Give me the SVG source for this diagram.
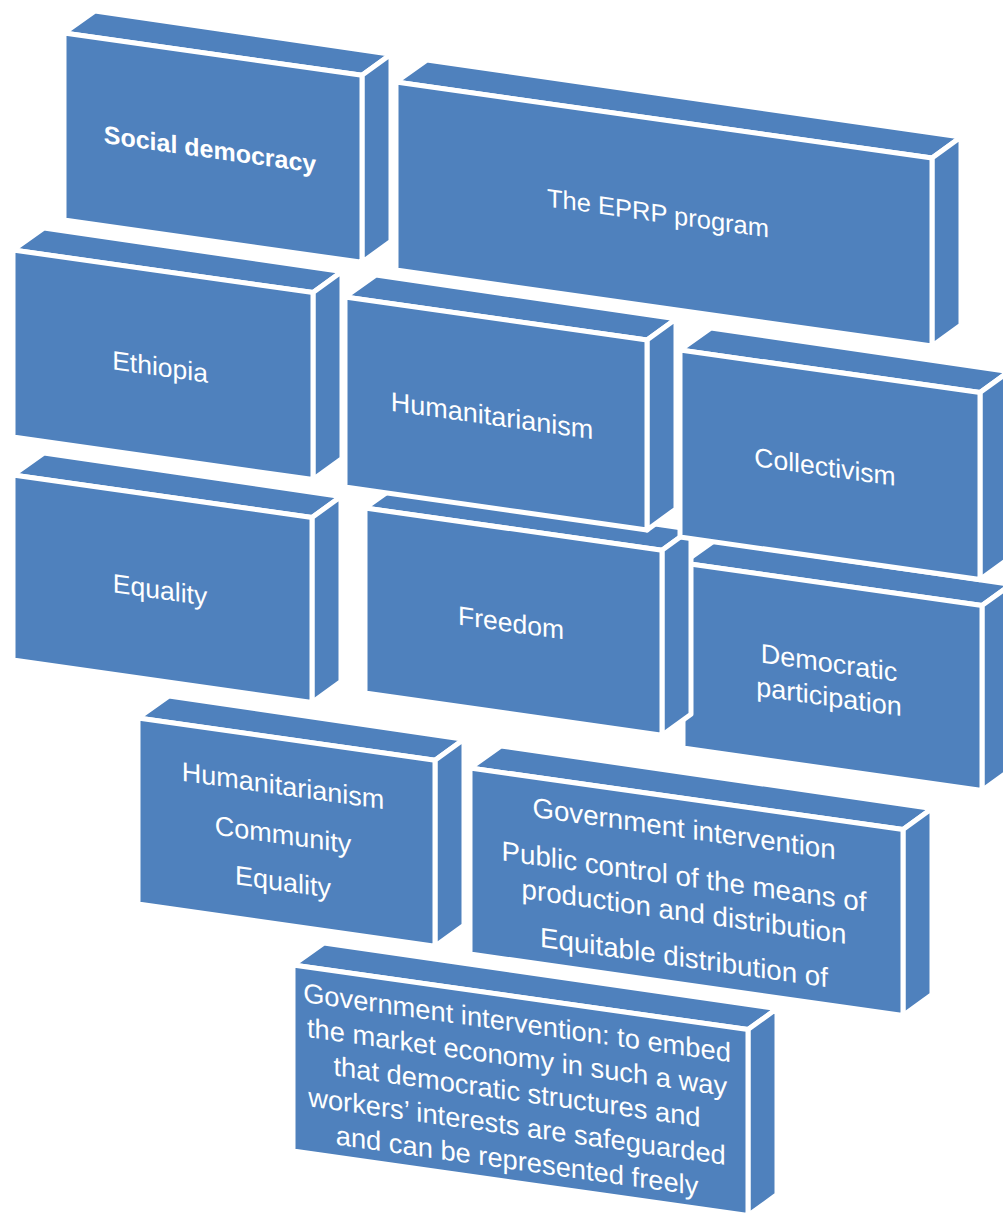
<svg xmlns="http://www.w3.org/2000/svg" width="1003" height="1218" viewBox="0 0 1003 1218">
<style>
.f{fill:#4F81BD;stroke:#FFFFFF;stroke-width:5;stroke-linejoin:round}
.t{font-family:"Liberation Sans",Arial,sans-serif;fill:#FFFFFF;text-anchor:middle;font-size:26.5px}
</style>
<rect width="1003" height="1218" fill="#FFFFFF"/>
<g id="connectors"/>
<g id="box-government-embed">
<polygon class="f" points="293,965 324,943 777,1008.6 748,1029.6"/>
<polygon class="f" points="748,1029.6 777,1008.6 777,1194.6 748,1215.6"/>
<polygon class="f" points="293,965 748,1029.6 748,1215.6 293,1151"/>
<g transform="translate(517,0) skewY(8)" class="t" style="font-size:27.3px">
<text x="0" y="1032">Government intervention: to embed</text>
<text x="0" y="1066.5">the market economy in such a way</text>
<text x="0" y="1101">that democratic structures and</text>
<text x="0" y="1135.5">workers’ interests are safeguarded</text>
<text x="0" y="1170">and can be represented freely</text>
</g>
</g>
<g id="box-government-intervention">
<polygon class="f" points="470,768 501,746 932,808.5 903,829.5"/>
<polygon class="f" points="903,829.5 932,808.5 932,994.5 903,1015.5"/>
<polygon class="f" points="470,768 903,829.5 903,1015.5 470,954"/>
<g transform="translate(684,0) skewY(8)" class="t" style="font-size:27.7px">
<text x="0" y="838">Government intervention</text>
<text x="0" y="886">Public control of the means of</text>
<text x="0" y="921">production and distribution</text>
<text x="0" y="967">Equitable distribution of</text>
</g>
</g>
<g id="box-humanitarianism-community-equality">
<polygon class="f" points="138,718 169,696 464,739.2 435,760.2"/>
<polygon class="f" points="435,760.2 464,739.2 464,925.2 435,946.2"/>
<polygon class="f" points="138,718 435,760.2 435,946.2 138,904"/>
<g transform="translate(283,0) skewY(8)" class="t" style="font-size:27px">
<text x="0" y="795">Humanitarianism</text>
<text x="0" y="844">Community</text>
<text x="0" y="891">Equality</text>
</g>
</g>
<g id="box-democratic-participation">
<polygon class="f" points="683,563 714,541 1011,584.5 982,605.5"/>
<polygon class="f" points="982,605.5 1011,584.5 1011,769.5 982,790.5"/>
<polygon class="f" points="683,563 982,605.5 982,790.5 683,748"/>
<g transform="translate(829,0) skewY(8)" class="t" style="font-size:27px">
<text x="0" y="672">Democratic</text>
<text x="0" y="706">participation</text>
</g>
</g>
<g id="box-freedom">
<polygon class="f" points="365,508 396,486 691,529.2 662,550.2"/>
<polygon class="f" points="662,550.2 691,529.2 691,714.2 662,735.2"/>
<polygon class="f" points="365,508 662,550.2 662,735.2 365,693"/>
<g transform="translate(511,0) skewY(8)" class="t"><text x="0" y="632">Freedom</text></g>
</g>
<g id="box-equality">
<polygon class="f" points="13,475 44,453 341,496.5 312,517.5"/>
<polygon class="f" points="312,517.5 341,496.5 341,681.5 312,702.5"/>
<polygon class="f" points="13,475 312,517.5 312,702.5 13,660"/>
<g transform="translate(160,0) skewY(8)" class="t"><text x="0" y="599">Equality</text></g>
</g>
<g id="box-collectivism">
<polygon class="f" points="680,350 711,328 1009,371.6 980,392.6"/>
<polygon class="f" points="980,392.6 1009,371.6 1009,558.6 980,579.6"/>
<polygon class="f" points="680,350 980,392.6 980,579.6 680,537"/>
<g transform="translate(825,0) skewY(8)" class="t"><text x="0" y="476">Collectivism</text></g>
</g>
<g id="box-humanitarianism">
<polygon class="f" points="345,297 376,275 676,318.9 647,339.9"/>
<polygon class="f" points="647,339.9 676,318.9 676,508.9 647,529.9"/>
<polygon class="f" points="345,297 647,339.9 647,529.9 345,487"/>
<g transform="translate(492,0) skewY(8)" class="t" style="font-size:27px"><text x="0" y="425">Humanitarianism</text></g>
</g>
<g id="box-ethiopia">
<polygon class="f" points="13,250 44,228 342,271.6 313,292.6"/>
<polygon class="f" points="313,292.6 342,271.6 342,458.6 313,479.6"/>
<polygon class="f" points="13,250 313,292.6 313,479.6 13,437"/>
<g transform="translate(160,0) skewY(8)" class="t"><text x="0" y="376">Ethiopia</text></g>
</g>
<g id="box-eprp-program">
<polygon class="f" points="396,82 427,60 961,137.1 932,158.1"/>
<polygon class="f" points="932,158.1 961,137.1 961,325.1 932,346.1"/>
<polygon class="f" points="396,82 932,158.1 932,346.1 396,270"/>
<g transform="translate(658,0) skewY(8)" class="t" style="font-size:25.5px"><text x="0" y="222">The EPRP program</text></g>
</g>
<g id="box-social-democracy">
<polygon class="f" points="64,33 95,11 391,54.3 362,75.3"/>
<polygon class="f" points="362,75.3 391,54.3 391,241.3 362,262.3"/>
<polygon class="f" points="64,33 362,75.3 362,262.3 64,220"/>
<g transform="translate(210,0) skewY(8)" class="t" style="font-size:25px;font-weight:bold"><text x="0" y="158">Social democracy</text></g>
</g>
</svg>
